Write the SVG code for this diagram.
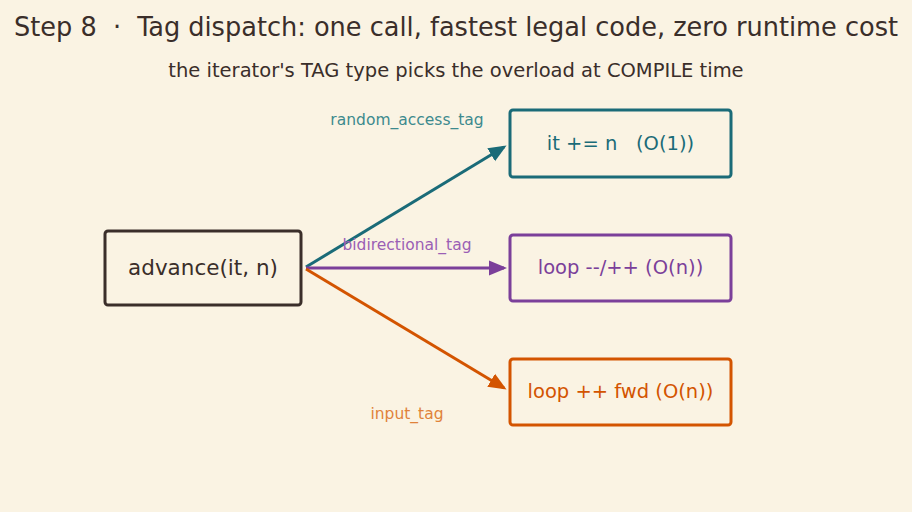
<svg xmlns="http://www.w3.org/2000/svg" width="912" height="512" viewBox="0 0 912 512">
<style>
text{font-family:"DejaVu Sans","Noto Sans",sans-serif;text-anchor:middle;dominant-baseline:central}
.title{font-family:"DejaVu Sans Condensed","DejaVu Sans",sans-serif;font-stretch:condensed;font-size:27px;fill:#3a2e2a}
.sub{font-size:19.5px;fill:#3a2e2a}
.box{fill:#faf3e3;stroke-width:3}
.lbl{font-size:15.5px}
.edge{fill:none;stroke-width:3}
</style>
<defs>
<marker id="aT" markerWidth="6" markerHeight="6" refX="5" refY="3" orient="auto" markerUnits="strokeWidth"><path d="M0,0.5 L6,3 L0,5.5 Z" fill="#1a6b78"/></marker>
<marker id="aP" markerWidth="6" markerHeight="6" refX="5" refY="3" orient="auto" markerUnits="strokeWidth"><path d="M0,0.5 L6,3 L0,5.5 Z" fill="#7b3f9a"/></marker>
<marker id="aO" markerWidth="6" markerHeight="6" refX="5" refY="3" orient="auto" markerUnits="strokeWidth"><path d="M0,0.5 L6,3 L0,5.5 Z" fill="#d35400"/></marker>
</defs>
<rect width="912" height="512" fill="#faf3e3"/>
<text class="title" x="456" y="26" xml:space="preserve" textLength="884" lengthAdjust="spacingAndGlyphs">Step 8  ·  Tag dispatch: one call, fastest legal code, zero runtime cost</text>
<text class="sub" x="456" y="70">the iterator's TAG type picks the overload at COMPILE time</text>
<g id="connectors">
<line class="edge" x1="306" y1="267" x2="504" y2="147" stroke="#1a6b78" marker-end="url(#aT)"/>
<line class="edge" x1="306" y1="268" x2="504" y2="268" stroke="#7b3f9a" marker-end="url(#aP)"/>
<line class="edge" x1="306" y1="269" x2="504" y2="388" stroke="#d35400" marker-end="url(#aO)"/>
<text class="lbl" x="407" y="120" fill="#3d8a8e">random_access_tag</text>
<text class="lbl" x="407" y="245" fill="#9b5fb5">bidirectional_tag</text>
<text class="lbl" x="407" y="414" fill="#e0823a">input_tag</text>
</g>
<g id="advance">
<rect class="box" x="105" y="231" width="196" height="74" rx="3" stroke="#3a2e2a"/>
<text x="203" y="267" font-size="21.5" fill="#3a2e2a">advance(it, n)</text>
</g>
<g id="random_access">
<rect class="box" x="510" y="110" width="221" height="67" rx="3" stroke="#1a6b78"/>
<text x="620.5" y="143" font-size="19.5" fill="#1a6b78" xml:space="preserve">it += n   (O(1))</text>
</g>
<g id="bidirectional">
<rect class="box" x="510" y="235" width="221" height="66" rx="3" stroke="#7b3f9a"/>
<text x="620.5" y="267" font-size="19.5" fill="#7b3f9a">loop --/++ (O(n))</text>
</g>
<g id="input">
<rect class="box" x="510" y="359" width="221" height="66" rx="3" stroke="#d35400"/>
<text x="620.5" y="391" font-size="19.5" fill="#d35400">loop ++ fwd (O(n))</text>
</g>
</svg>
